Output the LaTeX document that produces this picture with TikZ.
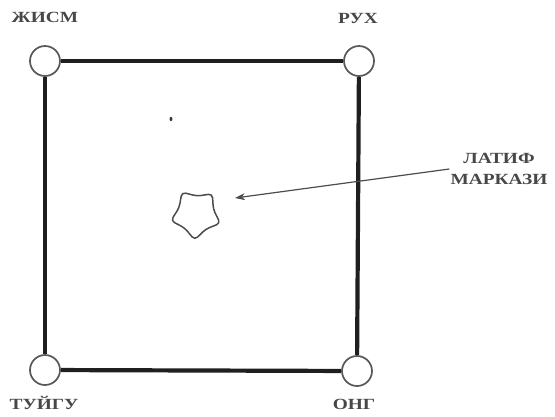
\documentclass[tikz,border=0pt]{standalone}
\usepackage{fontspec}
\setmainfont{Liberation Serif}
\newfontfamily\widefont[FakeStretch=1.25]{Liberation Serif}
\usetikzlibrary{arrows.meta,shapes.geometric}

\tikzset{
    vertex/.style={circle, draw=black!65, line width=1.7pt, fill=white,
        minimum size=30pt, inner sep=0pt},
    side/.style={line width=4.2pt, draw=black!88},
    lbl/.style={font=\widefont\bfseries\fontsize{15.5}{21}\selectfont, text=black!72, inner sep=1pt},
    pointer/.style={line width=1.2pt, draw=black!70,
        -{Stealth[length=10pt, width=7pt, inset=3pt]}}
}

\begin{document}
\begin{tikzpicture}[x=1pt, y=-1pt]
    \useasboundingbox (0,0) rectangle (555,416);

    % corners
    \node[vertex] (jism)  at (45,61) {};
    \node[vertex] (ruh)   at (359,61) {};
    \node[vertex] (tuygu) at (45,370) {};
    \node[vertex] (ong)   at (357,371) {};

    \draw[side] (jism) -- (ruh);
    \draw[side] (ruh) -- (ong);
    \draw[side] (ong) -- (tuygu);
    \draw[side] (tuygu) -- (jism);

    \node[lbl] (jismlbl)  at (45,17)  {ЖИСМ};
    \node[lbl] (ruhlbl)   at (358,18) {РУХ};
    \node[lbl] (tuygulbl) at (44,403) {ТУЙГУ};
    \node[lbl] (onglbl)   at (354,404) {ОНГ};

    % centre
    \node[star, star points=5, star point ratio=1.45, minimum size=52pt,
        shape border rotate=-39, draw=black!70, line width=1.5pt,
        rounded corners=4pt, inner sep=0pt] (markaz) at (196,214) {};
    \fill[black!80] (171,119) ellipse (1.4pt and 2.2pt);

    \node[lbl, align=center] (latif) at (499,169) {ЛАТИФ\\МАРКАЗИ};
    \coordinate (tip) at (235,198);
    \draw[pointer] (latif.west) -- (tip);
\end{tikzpicture}
\end{document}
